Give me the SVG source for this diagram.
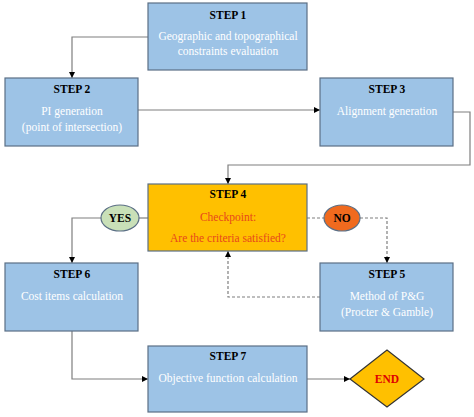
<svg xmlns="http://www.w3.org/2000/svg" width="474" height="417" viewBox="0 0 474 417">
<style>
.box{fill:#9DC3E6;stroke:#5B6F85;stroke-width:1.2}
.gold{fill:#FFC000;stroke:#5B6F85;stroke-width:1.2}
.t{font-family:"Liberation Serif","Times New Roman",serif;font-size:11.5px;text-anchor:middle}
.h{font-weight:bold;fill:#000}
.w{fill:#FFFFFF}
.r{fill:#E8481C}
.c{fill:none;stroke:#7F7F7F;stroke-width:1.2}
.d{stroke-dasharray:3,2}
</style>
<defs>
<marker id="a" viewBox="0 0 10 10" refX="10" refY="5" markerWidth="6" markerHeight="6" orient="auto" markerUnits="userSpaceOnUse">
<path d="M0,0 L10,5 L0,10 z" fill="#000"/>
</marker>
</defs>
<g id="connectors">
<polyline class="c" points="148,37 72,37 72,78" marker-end="url(#a)"/>
<polyline class="c" points="138,110 320,110" marker-end="url(#a)"/>
<polyline class="c" points="453,112 470,112 470,165 228,165 228,184" marker-end="url(#a)"/>
<polyline class="c" points="148,218 139,218"/>
<polyline class="c" points="101,218 72,218 72,263" marker-end="url(#a)"/>
<polyline class="c d" points="307,218 324,218"/>
<polyline class="c d" points="360,218 387,218 387,263" marker-end="url(#a)"/>
<polyline class="c d" points="320,297 228,297 228,251" marker-end="url(#a)"/>
<polyline class="c" points="72,331 72,379 148,379" marker-end="url(#a)"/>
<polyline class="c" points="307,379 350,379" marker-end="url(#a)"/>
</g>
<g id="step1">
<rect class="box" x="148" y="3" width="159" height="67"/>
<text class="t h" x="228" y="19">STEP 1</text>
<text class="t w" x="228" y="40">Geographic and topographical</text>
<text class="t w" x="228" y="55">constraints evaluation</text>
</g>
<g id="step2">
<rect class="box" x="5" y="78" width="133" height="68"/>
<text class="t h" x="72" y="93">STEP 2</text>
<text class="t w" x="72" y="115">PI generation</text>
<text class="t w" x="72" y="131">(point of intersection)</text>
</g>
<g id="step3">
<rect class="box" x="320" y="78" width="133" height="68"/>
<text class="t h" x="387" y="93">STEP 3</text>
<text class="t w" x="387" y="115">Alignment generation</text>
</g>
<g id="step4">
<rect class="gold" x="148" y="184" width="159" height="67"/>
<text class="t h" x="228" y="198">STEP 4</text>
<text class="t r" x="228" y="221">Checkpoint:</text>
<text class="t r" x="228" y="242">Are the criteria satisfied?</text>
</g>
<g id="yes">
<ellipse cx="120" cy="218" rx="19" ry="13" fill="#C9E0B8" stroke="#5B6F85" stroke-width="1.2"/>
<text class="t h" x="120" y="222">YES</text>
</g>
<g id="no">
<ellipse cx="342" cy="218" rx="18" ry="13" fill="#F06A1E" stroke="#5B6F85" stroke-width="1.2"/>
<text class="t h" x="342" y="222">NO</text>
</g>
<g id="step6">
<rect class="box" x="5" y="263" width="133" height="68"/>
<text class="t h" x="72" y="278">STEP 6</text>
<text class="t w" x="72" y="300">Cost items calculation</text>
</g>
<g id="step5">
<rect class="box" x="320" y="263" width="133" height="68"/>
<text class="t h" x="387" y="278">STEP 5</text>
<text class="t w" x="387" y="300">Method of P&amp;G</text>
<text class="t w" x="387" y="316">(Procter &amp; Gamble)</text>
</g>
<g id="step7">
<rect class="box" x="148" y="346" width="159" height="66"/>
<text class="t h" x="228" y="360">STEP 7</text>
<text class="t w" x="228" y="382">Objective function calculation</text>
</g>
<g id="end">
<polygon points="350,379 387,350 424,379 387,407" fill="#FFC000" stroke="#333" stroke-width="1.2"/>
<text class="t" x="387" y="383" font-weight="bold" fill="#E00000">END</text>
</g>
</svg>
